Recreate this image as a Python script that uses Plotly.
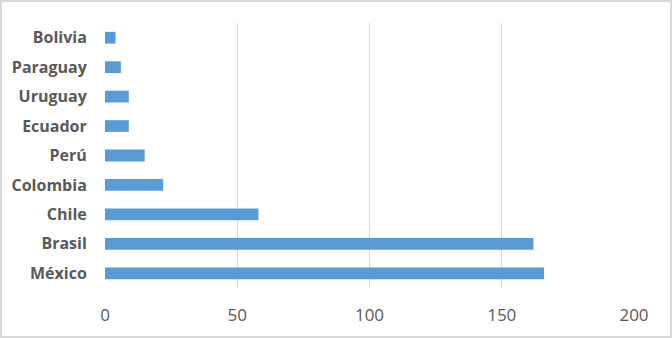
import plotly.graph_objects as go

countries = ["México", "Brasil", "Chile", "Colombia", "Perú", "Ecuador", "Uruguay", "Paraguay", "Bolivia"]
values = [166, 162, 58, 22, 15, 9, 9, 6, 4]
x_ticks = [0, 50, 100, 150, 200]

W, H = 672, 338
ml, mr, mt, mb = 105, 38, 23, 50
pw, ph = W - ml - mr, H - mt - mb

fig = go.Figure(go.Bar(
    x=values, y=countries, orientation="h",
    marker=dict(color="#5b9bd5", line=dict(width=0)),
    width=0.4,
))

fig.update_layout(
    width=W, height=H,
    margin=dict(l=ml, r=mr, t=mt, b=mb, pad=0),
    paper_bgcolor="white", plot_bgcolor="white",
    showlegend=False,
    font=dict(family="Open Sans", color="#595959"),
    xaxis=dict(
        range=[0, 200], tickvals=x_ticks, showgrid=True, gridcolor="#d9d9d9", gridwidth=1,
        zeroline=False, showline=False,
        ticks="outside", ticklen=12, tickcolor="rgba(0,0,0,0)",
        tickfont=dict(size=17, color="#595959", family="Open Sans"),
    ),
    yaxis=dict(
        categoryorder="array", categoryarray=countries,
        range=[-0.5, len(countries) - 0.5],
        showgrid=False, zeroline=False, showline=False,
        ticks="outside", ticklen=14, tickcolor="rgba(0,0,0,0)",
        tickfont=dict(size=16, color="#595959", family="Open Sans", weight="bold"),
    ),
    shapes=[dict(
        type="rect", xref="paper", yref="paper",
        x0=(-ml + 1) / pw, x1=1 + (mr - 1) / pw,
        y0=(-mb + 1) / ph, y1=1 + (mt - 1) / ph,
        line=dict(color="#d9d9d9", width=2), fillcolor="rgba(0,0,0,0)",
        layer="below",
    )],
)

fig.write_html("out.html")
